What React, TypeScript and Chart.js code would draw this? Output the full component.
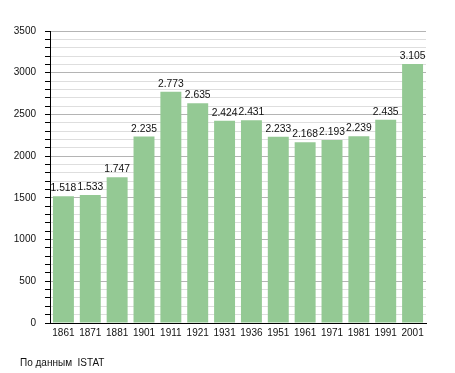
import React, { useEffect, useRef } from "react";
import { Chart, registerables } from "chart.js";

Chart.register(...registerables);

const years = ["1861", "1871", "1881", "1901", "1911", "1921", "1931", "1936", "1951", "1961", "1971", "1981", "1991", "2001"];
const population = [1518, 1533, 1747, 2235, 2773, 2635, 2424, 2431, 2233, 2168, 2193, 2239, 2435, 3105];
const yMax = 3500;
const yStep = 100;
const yLabelStep = 500;
const sourceText = "По данным  ISTAT";

const fmt = (v: number) => {
  const s = String(v);
  return s.length > 3 ? s.slice(0, s.length - 3) + "." + s.slice(s.length - 3) : s;
};

const FONT = "'Liberation Sans', Arial, sans-serif";

const valueLabels = {
  id: "valueLabels",
  afterDatasetsDraw(chart: any) {
    const ctx = chart.ctx;
    const meta = chart.getDatasetMeta(0);
    ctx.save();
    ctx.font = `10.3px ${FONT}`;
    ctx.fillStyle = "#111";
    ctx.textAlign = "center";
    ctx.textBaseline = "alphabetic";
    meta.data.forEach((bar: any, i: number) => {
      ctx.fillText(fmt(population[i]), bar.x, bar.y - 5);
    });
    ctx.restore();
  },
};

export default function App() {
  const ref = useRef<HTMLCanvasElement>(null);
  useEffect(() => {
    if (!ref.current) return;
    const chart = new Chart(ref.current, {
      type: "bar",
      data: {
        labels: years,
        datasets: [
          {
            data: population,
            backgroundColor: "#94c994",
            borderWidth: 0,
            barPercentage: 0.78,
            categoryPercentage: 1,
          },
        ],
      },
      options: {
        animation: false,
        responsive: false,
        maintainAspectRatio: false,
        layout: { padding: { top: 31, right: 29, left: 0, bottom: 0 } },
        plugins: { legend: { display: false }, tooltip: { enabled: false }, title: { display: false } },
        scales: {
          x: {
            grid: { display: false, drawTicks: false },
            border: { display: true, color: "#000", width: 1 },
            ticks: { color: "#111", font: { family: FONT, size: 10 }, padding: 4, maxRotation: 0, autoSkip: false },
            afterFit: (s: any) => {
              s.height = 50;
            },
          },
          y: {
            min: 0,
            max: yMax,
            grid: {
              color: (c: any) => (c.tick && c.tick.value % yLabelStep === 0 ? "#b4b4b4" : "#dedede"),
              tickColor: "#000",
              tickLength: 5,
              drawTicks: true,
            },
            border: { display: true, color: "#000", width: 1 },
            ticks: {
              stepSize: yStep,
              autoSkip: false,
              color: "#111",
              font: { family: FONT, size: 10 },
              padding: 9,
              callback: (v: any) => (Number(v) % yLabelStep === 0 ? String(v) : ""),
            },
            afterFit: (s: any) => {
              s.width = 50;
            },
          },
        },
      },
      plugins: [valueLabels],
    });
    return () => chart.destroy();
  }, []);
  return (
    <div style={{ position: "fixed", left: 0, top: 0, width: 455, height: 373, background: "#fff" }}>
      <canvas ref={ref} width={455} height={373} style={{ display: "block" }} />
      <div
        style={{
          position: "absolute",
          left: 20,
          top: 357,
          fontFamily: FONT,
          fontSize: 10,
          color: "#111",
          whiteSpace: "pre",
        }}
      >
        {sourceText}
      </div>
    </div>
  );
}
